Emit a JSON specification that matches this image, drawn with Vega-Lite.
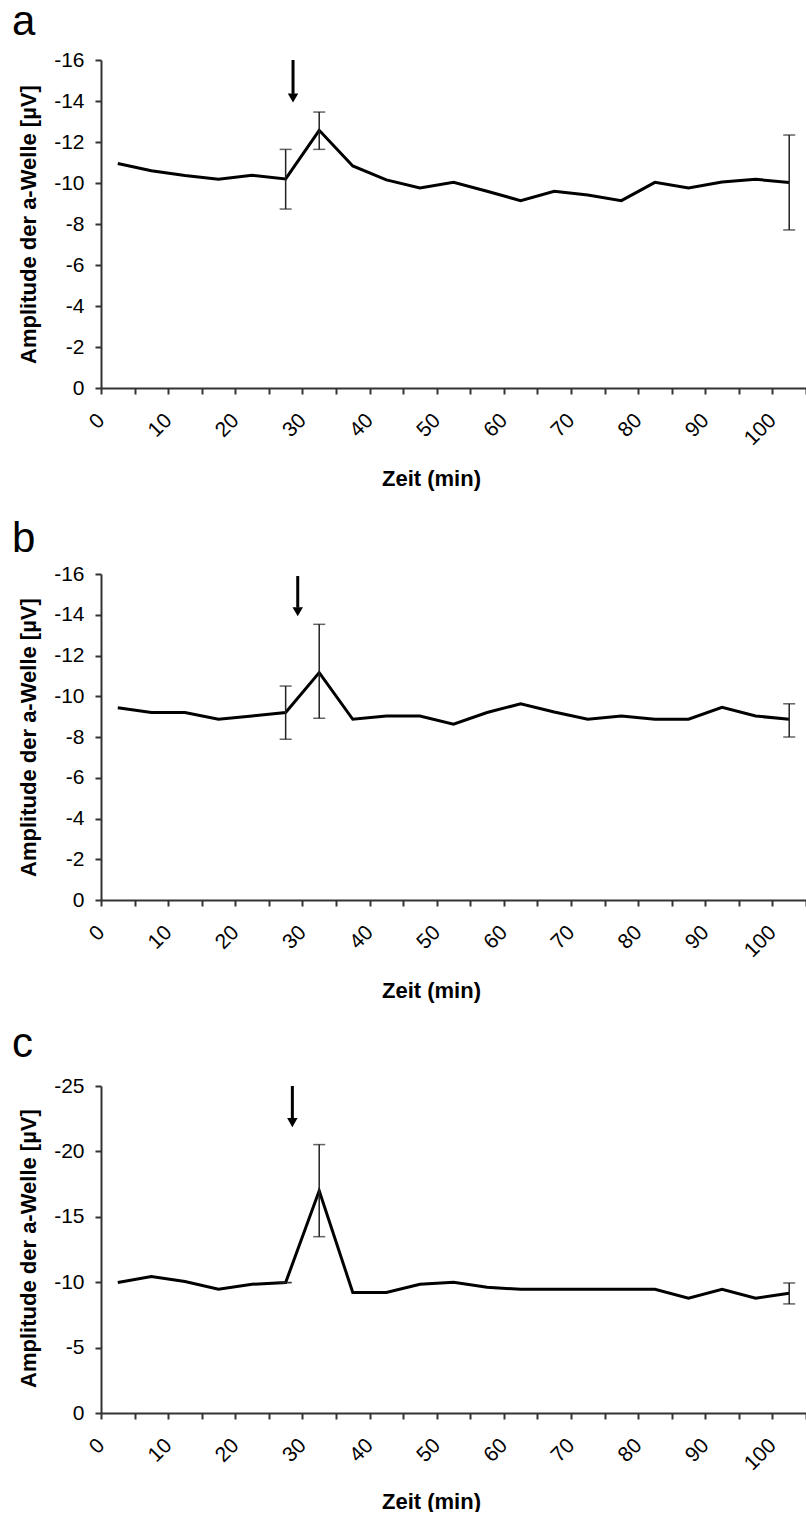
{
  "$schema": "https://vega.github.io/schema/vega-lite/v6.json",
  "padding": {"left": 12, "top": 1, "right": 0, "bottom": 0},
  "background": "white",
  "config": {
    "font": "Liberation Sans",
    "view": {"stroke": null},
    "axis": {"grid": false, "domainColor": "#333", "domainWidth": 2, "tickColor": "#333", "tickWidth": 2, "tickSize": 6, "labelColor": "#000", "labelFont": "Liberation Sans", "labelFontSize": 21, "titleFont": "Liberation Sans", "titleFontSize": 22, "titleFontWeight": "bold", "titleColor": "#000"},
    "title": {"font": "Liberation Sans", "fontSize": 42, "fontWeight": "normal", "color": "#000", "anchor": "start", "frame": "group", "baseline": "alphabetic", "dx": -89}
  },
  "datasets": {
    "a": [
      {"t": 2.5, "amp": -10.95}, {"t": 7.5, "amp": -10.6}, {"t": 12.5, "amp": -10.37}, {"t": 17.5, "amp": -10.18},
      {"t": 22.5, "amp": -10.38}, {"t": 27.5, "amp": -10.2, "lo": -8.73, "hi": -11.64}, {"t": 32.5, "amp": -12.57, "lo": -11.64, "hi": -13.46},
      {"t": 37.5, "amp": -10.83}, {"t": 42.5, "amp": -10.15}, {"t": 47.5, "amp": -9.76}, {"t": 52.5, "amp": -10.03},
      {"t": 57.5, "amp": -9.6}, {"t": 62.5, "amp": -9.14}, {"t": 67.5, "amp": -9.6}, {"t": 72.5, "amp": -9.41},
      {"t": 77.5, "amp": -9.14}, {"t": 82.5, "amp": -10.03}, {"t": 87.5, "amp": -9.76}, {"t": 92.5, "amp": -10.05},
      {"t": 97.5, "amp": -10.18}, {"t": 102.5, "amp": -10.03, "lo": -7.71, "hi": -12.34}
    ],
    "b": [
      {"t": 2.5, "amp": -9.44}, {"t": 7.5, "amp": -9.2}, {"t": 12.5, "amp": -9.2}, {"t": 17.5, "amp": -8.87},
      {"t": 22.5, "amp": -9.03}, {"t": 27.5, "amp": -9.2, "lo": -7.89, "hi": -10.5}, {"t": 32.5, "amp": -11.16, "lo": -8.92, "hi": -13.53},
      {"t": 37.5, "amp": -8.87}, {"t": 42.5, "amp": -9.03}, {"t": 47.5, "amp": -9.03}, {"t": 52.5, "amp": -8.63},
      {"t": 57.5, "amp": -9.2}, {"t": 62.5, "amp": -9.63}, {"t": 67.5, "amp": -9.23}, {"t": 72.5, "amp": -8.87},
      {"t": 77.5, "amp": -9.03}, {"t": 82.5, "amp": -8.87}, {"t": 87.5, "amp": -8.87}, {"t": 92.5, "amp": -9.46},
      {"t": 97.5, "amp": -9.03}, {"t": 102.5, "amp": -8.87, "lo": -8.0, "hi": -9.63}
    ],
    "c": [
      {"t": 2.5, "amp": -9.97}, {"t": 7.5, "amp": -10.43}, {"t": 12.5, "amp": -10.05}, {"t": 17.5, "amp": -9.46},
      {"t": 22.5, "amp": -9.84}, {"t": 27.5, "amp": -9.97, "lo": -9.97, "hi": -9.97}, {"t": 32.5, "amp": -16.99, "lo": -13.48, "hi": -20.52},
      {"t": 37.5, "amp": -9.21}, {"t": 42.5, "amp": -9.21}, {"t": 47.5, "amp": -9.84}, {"t": 52.5, "amp": -10.0},
      {"t": 57.5, "amp": -9.61}, {"t": 62.5, "amp": -9.46}, {"t": 67.5, "amp": -9.46}, {"t": 72.5, "amp": -9.46},
      {"t": 77.5, "amp": -9.46}, {"t": 82.5, "amp": -9.46}, {"t": 87.5, "amp": -8.77}, {"t": 92.5, "amp": -9.46},
      {"t": 97.5, "amp": -8.77}, {"t": 102.5, "amp": -9.16, "lo": -8.34, "hi": -9.94}
    ],
    "arrows": [
      {"panel": "a", "t": 28.6, "top": -16, "base": -14.35, "tip": -14.15},
      {"panel": "b", "t": 29.3, "top": -15.9, "base": -14.35, "tip": -14.15},
      {"panel": "c", "t": 28.5, "top": -25, "base": -22.45, "tip": -22.2}
    ]
  },
  "vconcat": [
    {
      "title": {"text": "a", "offset": 5},
      "width": 705, "height": 328,
      "encoding": {
        "x": {"field": "t", "type": "quantitative", "title": "Zeit (min)", "scale": {"domain": [0, 105], "nice": false, "zero": false},
          "axis": {"values": [0,5,10,15,20,25,30,35,40,45,50,55,60,65,70,75,80,85,90,95,100,105], "labelExpr": "datum.value % 10 == 0 && datum.value <= 100 ? datum.label : ''", "labelAngle": -45, "labelAlign": "right", "labelBaseline": "middle", "labelPadding": 23, "labelFlush": false, "labelOverlap": false, "titleX": 330, "titleY": 97, "titleBaseline": "alphabetic", "titleAlign": "center"}}
      },
      "layer": [
        {"data": {"name": "a"}, "mark": {"type": "line", "color": "#000", "strokeWidth": 3},
          "encoding": {"y": {"field": "amp", "type": "quantitative", "title": "Amplitude der a-Welle [µV]", "scale": {"domain": [0, -16], "nice": false},
            "axis": {"values": [0,-2,-4,-6,-8,-10,-12,-14,-16], "labelExpr": "datum.value == 0 ? '0' : '-' + abs(datum.value)", "labelPadding": 11, "titleX": -66, "titleY": 164, "titleBaseline": "alphabetic", "titleAlign": "center", "titleAngle": -90}}}},
        {"data": {"name": "a"}, "transform": [{"filter": "isValid(datum.hi)"}], "mark": {"type": "rule", "color": "#222", "strokeWidth": 1.5},
          "encoding": {"y": {"field": "lo", "type": "quantitative", "title": "Amplitude der a-Welle [µV]", "scale": {"domain": [0, -16], "nice": false}}, "y2": {"field": "hi"}}},
        {"data": {"name": "a"}, "transform": [{"filter": "isValid(datum.hi)"}], "mark": {"type": "tick", "orient": "horizontal", "color": "#222", "thickness": 1.5, "size": 12},
          "encoding": {"y": {"field": "lo", "type": "quantitative", "title": "Amplitude der a-Welle [µV]", "scale": {"domain": [0, -16], "nice": false}}}},
        {"data": {"name": "a"}, "transform": [{"filter": "isValid(datum.hi)"}], "mark": {"type": "tick", "orient": "horizontal", "color": "#222", "thickness": 1.5, "size": 12},
          "encoding": {"y": {"field": "hi", "type": "quantitative", "title": "Amplitude der a-Welle [µV]", "scale": {"domain": [0, -16], "nice": false}}}},
        {"data": {"name": "arrows"}, "transform": [{"filter": "datum.panel == 'a'"}], "mark": {"type": "rule", "color": "#000", "strokeWidth": 3},
          "encoding": {"y": {"field": "top", "type": "quantitative", "title": "Amplitude der a-Welle [µV]", "scale": {"domain": [0, -16], "nice": false}}, "y2": {"field": "base"}}},
        {"data": {"name": "arrows"}, "transform": [{"filter": "datum.panel == 'a'"}], "mark": {"type": "point", "shape": "triangle-down", "filled": true, "color": "#000", "size": 110, "opacity": 1},
          "encoding": {"y": {"field": "tip", "type": "quantitative", "title": "Amplitude der a-Welle [µV]", "scale": {"domain": [0, -16], "nice": false}}}}
      ]
    },
    {
      "title": {"text": "b", "offset": 2},
      "width": 705, "height": 326,
      "encoding": {
        "x": {"field": "t", "type": "quantitative", "title": "Zeit (min)", "scale": {"domain": [0, 105], "nice": false, "zero": false},
          "axis": {"values": [0,5,10,15,20,25,30,35,40,45,50,55,60,65,70,75,80,85,90,95,100,105], "labelExpr": "datum.value % 10 == 0 && datum.value <= 100 ? datum.label : ''", "labelAngle": -45, "labelAlign": "right", "labelBaseline": "middle", "labelPadding": 23, "labelFlush": false, "labelOverlap": false, "titleX": 330, "titleY": 97, "titleBaseline": "alphabetic", "titleAlign": "center"}}
      },
      "layer": [
        {"data": {"name": "b"}, "mark": {"type": "line", "color": "#000", "strokeWidth": 3},
          "encoding": {"y": {"field": "amp", "type": "quantitative", "title": "Amplitude der a-Welle [µV]", "scale": {"domain": [0, -16], "nice": false},
            "axis": {"values": [0,-2,-4,-6,-8,-10,-12,-14,-16], "labelExpr": "datum.value == 0 ? '0' : '-' + abs(datum.value)", "labelPadding": 11, "titleX": -66, "titleY": 163, "titleBaseline": "alphabetic", "titleAlign": "center", "titleAngle": -90}}}},
        {"data": {"name": "b"}, "transform": [{"filter": "isValid(datum.hi)"}], "mark": {"type": "rule", "color": "#222", "strokeWidth": 1.5},
          "encoding": {"y": {"field": "lo", "type": "quantitative", "title": "Amplitude der a-Welle [µV]", "scale": {"domain": [0, -16], "nice": false}}, "y2": {"field": "hi"}}},
        {"data": {"name": "b"}, "transform": [{"filter": "isValid(datum.hi)"}], "mark": {"type": "tick", "orient": "horizontal", "color": "#222", "thickness": 1.5, "size": 12},
          "encoding": {"y": {"field": "lo", "type": "quantitative", "title": "Amplitude der a-Welle [µV]", "scale": {"domain": [0, -16], "nice": false}}}},
        {"data": {"name": "b"}, "transform": [{"filter": "isValid(datum.hi)"}], "mark": {"type": "tick", "orient": "horizontal", "color": "#222", "thickness": 1.5, "size": 12},
          "encoding": {"y": {"field": "hi", "type": "quantitative", "title": "Amplitude der a-Welle [µV]", "scale": {"domain": [0, -16], "nice": false}}}},
        {"data": {"name": "arrows"}, "transform": [{"filter": "datum.panel == 'b'"}], "mark": {"type": "rule", "color": "#000", "strokeWidth": 3},
          "encoding": {"y": {"field": "top", "type": "quantitative", "title": "Amplitude der a-Welle [µV]", "scale": {"domain": [0, -16], "nice": false}}, "y2": {"field": "base"}}},
        {"data": {"name": "arrows"}, "transform": [{"filter": "datum.panel == 'b'"}], "mark": {"type": "point", "shape": "triangle-down", "filled": true, "color": "#000", "size": 110, "opacity": 1},
          "encoding": {"y": {"field": "tip", "type": "quantitative", "title": "Amplitude der a-Welle [µV]", "scale": {"domain": [0, -16], "nice": false}}}}
      ]
    },
    {
      "title": {"text": "c", "offset": 9},
      "width": 705, "height": 327,
      "encoding": {
        "x": {"field": "t", "type": "quantitative", "title": "Zeit (min)", "scale": {"domain": [0, 105], "nice": false, "zero": false},
          "axis": {"values": [0,5,10,15,20,25,30,35,40,45,50,55,60,65,70,75,80,85,90,95,100,105], "labelExpr": "datum.value % 10 == 0 && datum.value <= 100 ? datum.label : ''", "labelAngle": -45, "labelAlign": "right", "labelBaseline": "middle", "labelPadding": 23, "labelFlush": false, "labelOverlap": false, "titleX": 330, "titleY": 95, "titleBaseline": "alphabetic", "titleAlign": "center"}}
      },
      "layer": [
        {"data": {"name": "c"}, "mark": {"type": "line", "color": "#000", "strokeWidth": 3},
          "encoding": {"y": {"field": "amp", "type": "quantitative", "title": "Amplitude der a-Welle [µV]", "scale": {"domain": [0, -25], "nice": false},
            "axis": {"values": [0,-5,-10,-15,-20,-25], "labelExpr": "datum.value == 0 ? '0' : '-' + abs(datum.value)", "labelPadding": 11, "titleX": -66, "titleY": 162, "titleBaseline": "alphabetic", "titleAlign": "center", "titleAngle": -90}}}},
        {"data": {"name": "c"}, "transform": [{"filter": "isValid(datum.hi)"}], "mark": {"type": "rule", "color": "#222", "strokeWidth": 1.5},
          "encoding": {"y": {"field": "lo", "type": "quantitative", "title": "Amplitude der a-Welle [µV]", "scale": {"domain": [0, -25], "nice": false}}, "y2": {"field": "hi"}}},
        {"data": {"name": "c"}, "transform": [{"filter": "isValid(datum.hi)"}], "mark": {"type": "tick", "orient": "horizontal", "color": "#222", "thickness": 1.5, "size": 12},
          "encoding": {"y": {"field": "lo", "type": "quantitative", "title": "Amplitude der a-Welle [µV]", "scale": {"domain": [0, -25], "nice": false}}}},
        {"data": {"name": "c"}, "transform": [{"filter": "isValid(datum.hi)"}], "mark": {"type": "tick", "orient": "horizontal", "color": "#222", "thickness": 1.5, "size": 12},
          "encoding": {"y": {"field": "hi", "type": "quantitative", "title": "Amplitude der a-Welle [µV]", "scale": {"domain": [0, -25], "nice": false}}}},
        {"data": {"name": "arrows"}, "transform": [{"filter": "datum.panel == 'c'"}], "mark": {"type": "rule", "color": "#000", "strokeWidth": 3},
          "encoding": {"y": {"field": "top", "type": "quantitative", "title": "Amplitude der a-Welle [µV]", "scale": {"domain": [0, -25], "nice": false}}, "y2": {"field": "base"}}},
        {"data": {"name": "arrows"}, "transform": [{"filter": "datum.panel == 'c'"}], "mark": {"type": "point", "shape": "triangle-down", "filled": true, "color": "#000", "size": 110, "opacity": 1},
          "encoding": {"y": {"field": "tip", "type": "quantitative", "title": "Amplitude der a-Welle [µV]", "scale": {"domain": [0, -25], "nice": false}}}}
      ]
    }
  ],
  "spacing": 186,
  "bounds": "flush"
}
